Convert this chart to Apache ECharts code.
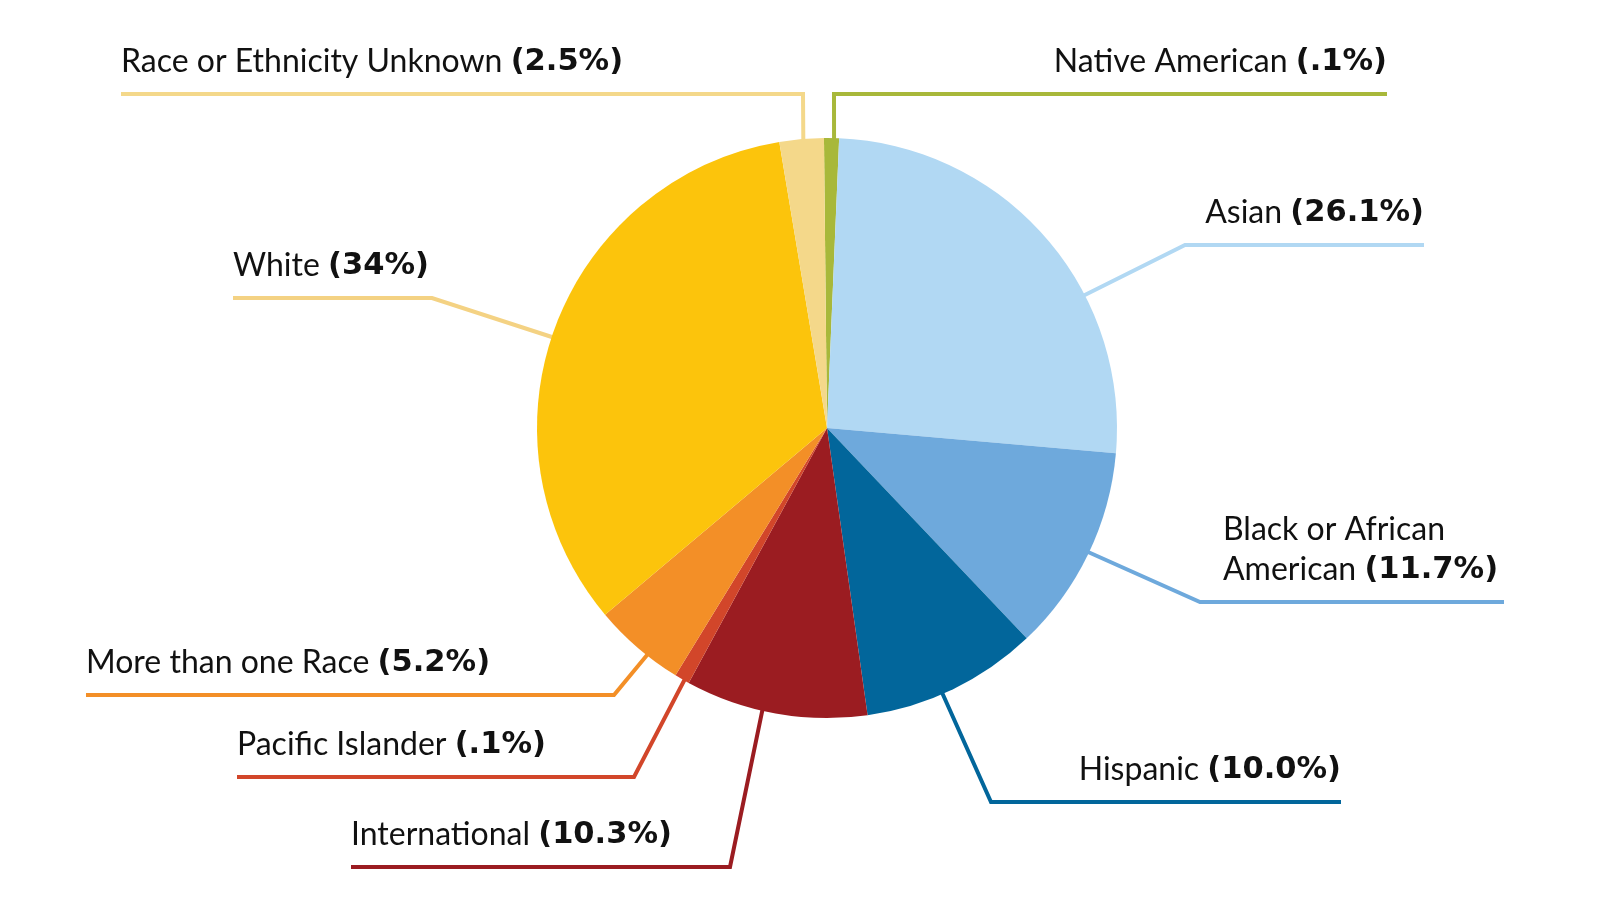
<!DOCTYPE html>
<html>
<head>
<meta charset="utf-8">
<script src="https://cdn.jsdelivr.net/npm/echarts@6/dist/echarts.min.js"></script>
<style>
html,body{margin:0;padding:0;background:#fff;}
#chart{width:1600px;height:900px;}
</style>
</head>
<body>
<div id="chart"></div>
<script>
// ---- data ----
const categories = ['Native American', 'Asian', 'Black or African American', 'Hispanic', 'International', 'Pacific Islander', 'More than one Race', 'White', 'Race or Ethnicity Unknown'];
const values = [0.1, 26.1, 11.7, 10.0, 10.3, 0.1, 5.2, 34, 2.5];
const percentLabels = ['.1%', '26.1%', '11.7%', '10.0%', '10.3%', '.1%', '5.2%', '34%', '2.5%'];

// ---- styles ----
const sliceColors = ['#a8b83a', '#b1d8f3', '#6ea9dc', '#02669b', '#9b1c21', '#d2462a', '#f38f27', '#fcc40c', '#f4d88a'];
const lineColors  = ['#a8b83a', '#b1d8f3', '#6ea9dc', '#02669b', '#9b1c21', '#d2462a', '#f38f27', '#f4d283', '#f4d88a'];

// ---- layout (leader line anchor angle on rim, elbow, horizontal end, text alignment) ----
const CX = 827, CY = 428, R = 290;
const labelLayoutCfg = [
  {ang: 1.4,   elbow: [834, 94],   endX: 1387, align: 'right'},
  {ang: 62.7,  elbow: [1185, 245], endX: 1424, align: 'right'},
  {ang: 115.4, elbow: [1200, 602], endX: 1504, align: 'left', textX: 1223, wrap: 'Black or African'},
  {ang: 156.5, elbow: [991, 802],  endX: 1341, align: 'right'},
  {ang: 192.9, elbow: [730, 867],  endX: 351,  align: 'left'},
  {ang: 209.5, elbow: [634, 777],  endX: 237,  align: 'left'},
  {ang: 218.4, elbow: [614, 695],  endX: 86,   align: 'left'},
  {ang: 288.3, elbow: [432, 298],  endX: 233,  align: 'left'},
  {ang: 355.3, elbow: [803, 94],   endX: 121,  align: 'left'}
];

const chart = echarts.init(document.getElementById('chart'));

const seriesData = categories.map((c, i) => ({
  name: c,
  value: values[i],
  itemStyle: {color: sliceColors[i]},
  labelLine: {lineStyle: {color: lineColors[i]}}
}));

chart.setOption({
  backgroundColor: '#ffffff',
  animation: false,
  series: [{
    type: 'pie',
    center: [CX, CY],
    radius: R,
    startAngle: 90.6,
    clockwise: true,
    minAngle: 3,
    avoidLabelOverlap: false,
    emphasis: {disabled: true},
    itemStyle: {borderWidth: 0},
    data: seriesData,
    label: {
      show: true,
      position: 'outside',
      fontFamily: 'Lato',
      color: '#111',
      formatter: function (p) {
        const i = p.dataIndex;
        const cfg = labelLayoutCfg[i];
        const pct = '{b|(' + percentLabels[i] + ')}';
        if (cfg.wrap) {
          const rest = p.name.slice(cfg.wrap.length).trim();
          return '{n|' + cfg.wrap + '}\n{n|' + rest + ' }' + pct;
        }
        return '{n|' + p.name + ' }' + pct;
      },
      rich: {
        n: {fontFamily: 'Lato', fontSize: 32, color: '#111', lineHeight: 40},
        b: {fontFamily: 'DejaVu Sans', fontSize: 30.5, fontWeight: 'bold', color: '#111', lineHeight: 40}
      }
    },
    labelLine: {show: true, lineStyle: {width: 4}, smooth: false},
    labelLayout: function (params) {
      const i = params.dataIndex;
      const cfg = labelLayoutCfg[i];
      const a = cfg.ang * Math.PI / 180;
      const sx = CX + (R - 1) * Math.sin(a);
      const sy = CY - (R - 1) * Math.cos(a);
      const ly = cfg.elbow[1];
      const lines = cfg.wrap ? 2 : 1;
      const ty = ly - 32 - (lines - 1) * 20;
      return {
        x: cfg.textX != null ? cfg.textX : cfg.endX,
        y: ty,
        align: cfg.align,
        verticalAlign: 'middle',
        labelLinePoints: [[sx, sy], [cfg.elbow[0], ly], [cfg.endX, ly]]
      };
    }
  }]
});
</script>
</body>
</html>
